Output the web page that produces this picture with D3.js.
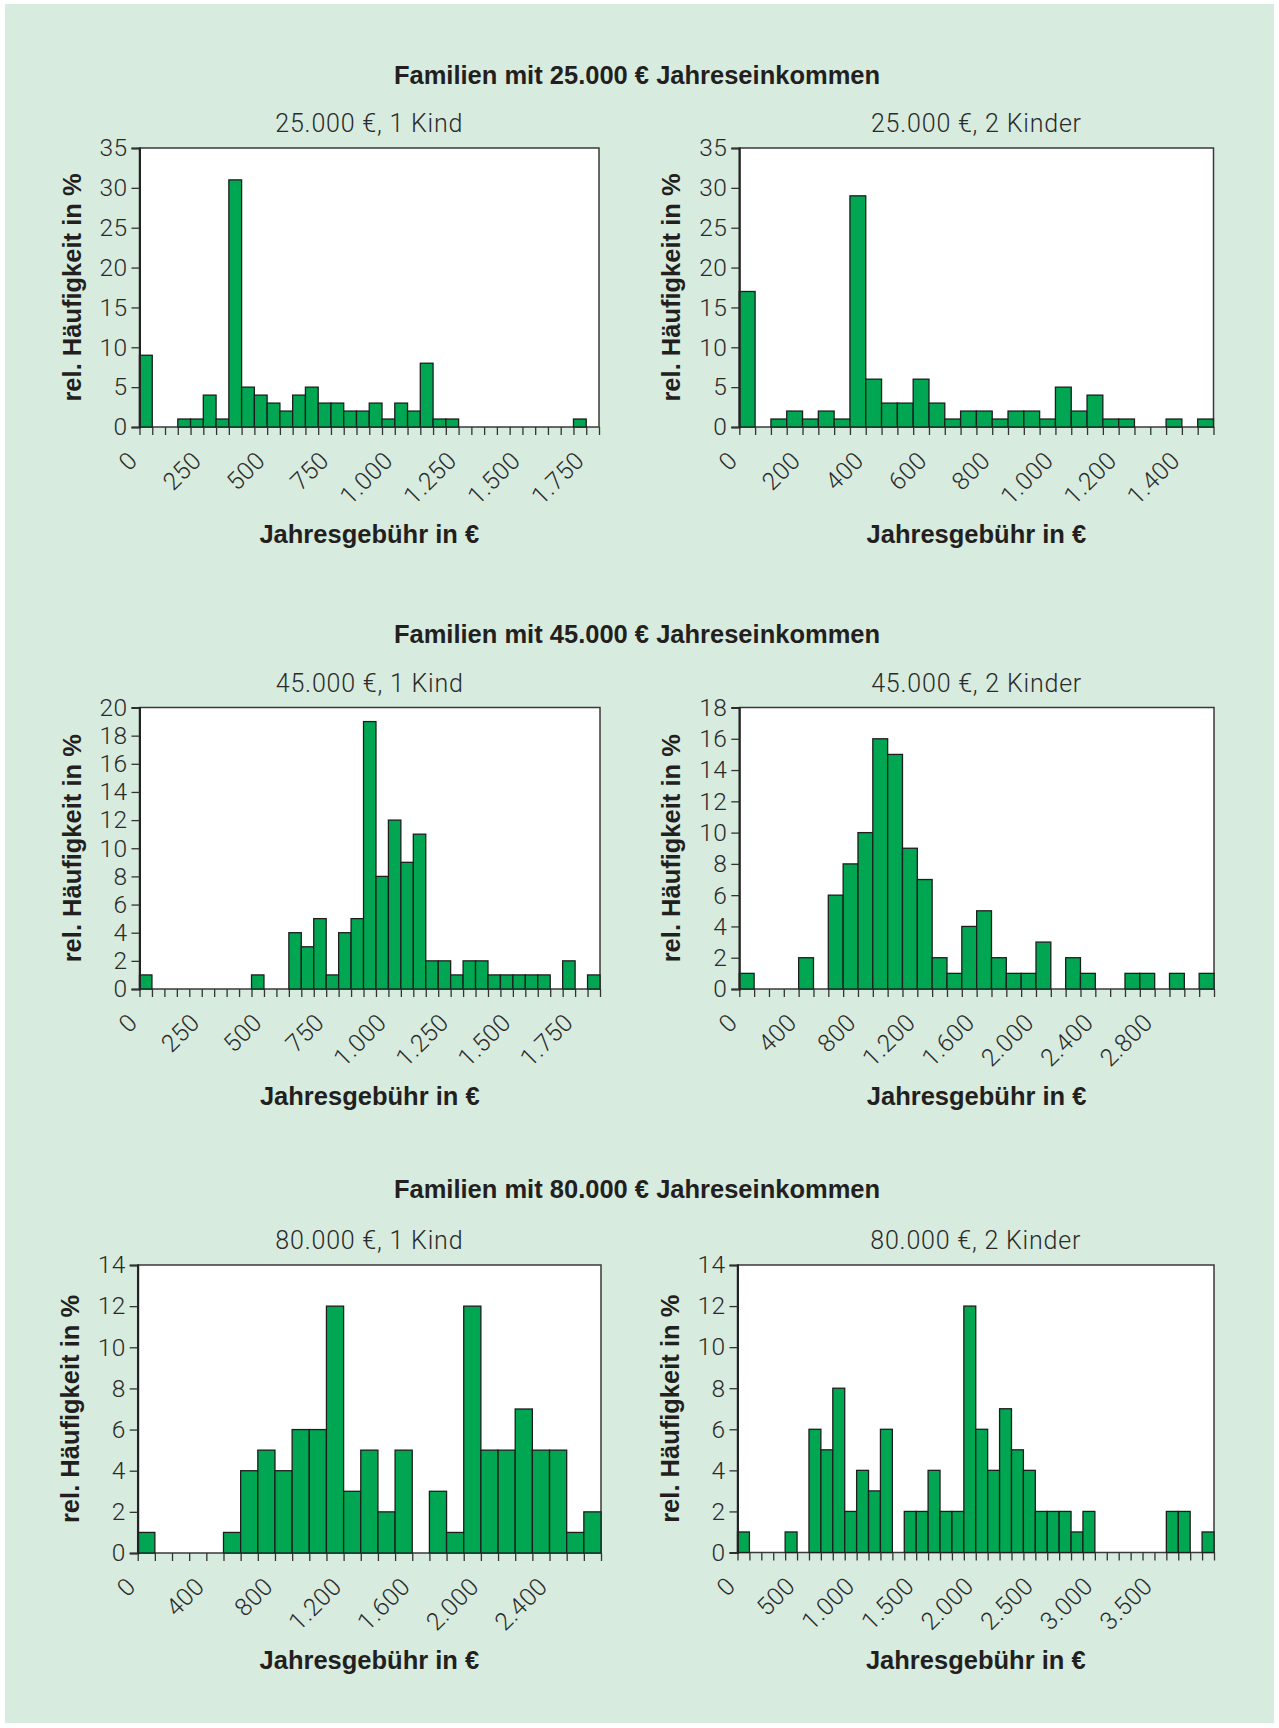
<!DOCTYPE html>
<html>
<head>
<meta charset="utf-8">
<script src="https://cdn.jsdelivr.net/npm/d3@7"></script>
<style>
  body { margin: 0; background: #fff; }
  .bold { font-family: "Liberation Sans", Arial, sans-serif; font-weight: bold; fill: #231f20; }
  .light { font-family: Roboto, "Liberation Sans", sans-serif; font-weight: 300; fill: #2a2a2a; }
</style>
</head>
<body>
<svg id="chart" width="1279" height="1728"></svg>
<script>
// Überschriften
const groupTitles = ["Familien mit 25.000 € Jahreseinkommen",
                     "Familien mit 45.000 € Jahreseinkommen",
                     "Familien mit 80.000 € Jahreseinkommen"];
const chartTitles = ["25.000 €, 1 Kind", "25.000 €, 2 Kinder",
                     "45.000 €, 1 Kind", "45.000 €, 2 Kinder",
                     "80.000 €, 1 Kind", "80.000 €, 2 Kinder"];
const yTitle = "rel. Häufigkeit in %";
const xTitle = "Jahresgebühr in €";

// Klassenbreite, Achsenende, Beschriftungsschritte
const binWidths   = [50, 50, 50, 100, 100, 100];
const xMax        = [1800, 1500, 1850, 3200, 2700, 4000];
const xLabelSteps = [250, 200, 250, 400, 400, 500];
const yMax        = [35, 35, 20, 18, 14, 14];
const yTickSteps  = [5, 5, 2, 2, 2, 2];

// rel. Häufigkeiten pro Klasse (in %)
const freq25k1 = [9,0,0,1,1,4,1,31,5,4,3,2,4,5,3,3,2,2,3,1,3,2,8,1,1,0,0,0,0,0,0,0,0,0,1,0];
const freq25k2 = [17,0,1,2,1,2,1,29,6,3,3,6,3,1,2,2,1,2,2,1,5,2,4,1,1,0,0,1,0,1];
const freq45k1 = [1,0,0,0,0,0,0,0,0,1,0,0,4,3,5,1,4,5,19,8,12,9,11,2,2,1,2,2,1,1,1,1,1,0,2,0,1];
const freq45k2 = [1,0,0,0,2,0,6,8,10,16,15,9,7,2,1,4,5,2,1,1,3,0,2,1,0,0,1,1,0,1,0,1];
const freq80k1 = [1,0,0,0,0,1,4,5,4,6,6,12,3,5,2,5,0,3,1,12,5,5,7,5,5,1,2];
const freq80k2 = [1,0,0,0,1,0,6,5,8,2,4,3,6,0,2,2,4,2,2,12,6,4,7,5,4,2,2,2,1,2,0,0,0,0,0,0,2,2,0,1];
const series = [freq25k1, freq25k2, freq45k1, freq45k2, freq80k1, freq80k2];

// Lage der Diagrammflächen
const boxes = [
  {left: 139.5, right: 599, top: 148, bottom: 427},
  {left: 739.3, right: 1213.5, top: 148, bottom: 427},
  {left: 139.5, right: 600, top: 707.5, bottom: 989},
  {left: 739.3, right: 1214, top: 707.5, bottom: 989},
  {left: 137.7, right: 601, top: 1265, bottom: 1553},
  {left: 737.5, right: 1214, top: 1265, bottom: 1552.5}
];
const groupTitleY = [84, 643, 1198];

const de = d3.formatLocale({decimal: ",", thousands: ".", grouping: [3], currency: ["", " €"]});
const fmt = de.format(",");

const svg = d3.select("#chart");
svg.append("rect").attr("x", 5).attr("y", 4).attr("width", 1269).attr("height", 1719)
   .attr("fill", "#d7ebde");

groupTitles.forEach(function (t, i) {
  svg.append("text").attr("class", "bold").attr("x", 637).attr("y", groupTitleY[i])
     .attr("text-anchor", "middle").style("font-size", "25.5px").text(t);
});

series.forEach(function (values, i) {
  var b = boxes[i],
      bin = binWidths[i],
      x = d3.scaleLinear().domain([0, xMax[i]]).range([b.left, b.right]),
      y = d3.scaleLinear().domain([0, yMax[i]]).range([b.bottom, b.top]),
      g = svg.append("g");

  g.append("rect").attr("x", b.left).attr("y", b.top)
   .attr("width", b.right - b.left).attr("height", b.bottom - b.top)
   .attr("fill", "#fff").attr("stroke", "#3a3a3a").attr("stroke-width", 1.5);

  g.selectAll("rect.bar").data(values).enter().append("rect")
   .attr("class", "bar")
   .attr("x", function (d, j) { return x(j * bin); })
   .attr("width", function (d, j) { return x((j + 1) * bin) - x(j * bin); })
   .attr("y", function (d) { return y(d); })
   .attr("height", function (d) { return y(0) - y(d); })
   .attr("fill", "#00a651").attr("stroke", "#1e1e1e").attr("stroke-width", 1.3);

  // x-Achse
  var xAxis = d3.axisBottom(x)
      .tickValues(d3.range(0, xMax[i] + 1, bin))
      .tickSize(8)
      .tickFormat(function (d) { return (d % xLabelSteps[i] === 0 && d < xMax[i]) ? fmt(d) : ""; });
  var xg = g.append("g").attr("transform", "translate(0," + b.bottom + ")").call(xAxis);
  xg.select(".domain").remove();
  xg.selectAll("line").attr("stroke", "#333").attr("stroke-width", 1.3);
  xg.selectAll("text").attr("class", "light").attr("y", 0).attr("dy", 0)
    .attr("text-anchor", "end").attr("transform", "translate(-1,35) rotate(-45)")
    .style("font-size", "24.5px").style("letter-spacing", "0.4px").attr("fill", null);

  // y-Achse
  var yAxis = d3.axisLeft(y)
      .tickValues(d3.range(0, yMax[i] + 1, yTickSteps[i]))
      .tickSize(8).tickPadding(4);
  var yg = g.append("g").attr("transform", "translate(" + b.left + ",0)").call(yAxis);
  yg.select(".domain").attr("stroke", "#222").attr("stroke-width", 2);
  yg.selectAll("line").attr("stroke", "#333").attr("stroke-width", 1.3);
  yg.selectAll("text").attr("class", "light").style("font-size", "24.5px")
    .style("letter-spacing", "0.4px").attr("fill", null);

  // Titel
  var cx = (b.left + b.right) / 2;
  g.append("text").attr("class", "light").attr("x", cx).attr("y", b.top - 16)
   .attr("text-anchor", "middle").style("font-size", "25px").style("letter-spacing", "0.8px")
   .text(chartTitles[i]);
  g.append("text").attr("class", "bold").attr("x", cx).attr("y", b.bottom + 116)
   .attr("text-anchor", "middle").style("font-size", "25.5px").text(xTitle);
  g.append("text").attr("class", "bold")
   .attr("transform", "translate(" + (b.left - 59) + "," + ((b.top + b.bottom) / 2) + ") rotate(-90)")
   .attr("text-anchor", "middle").style("font-size", "25.5px").text(yTitle);
});
</script>
</body>
</html>
